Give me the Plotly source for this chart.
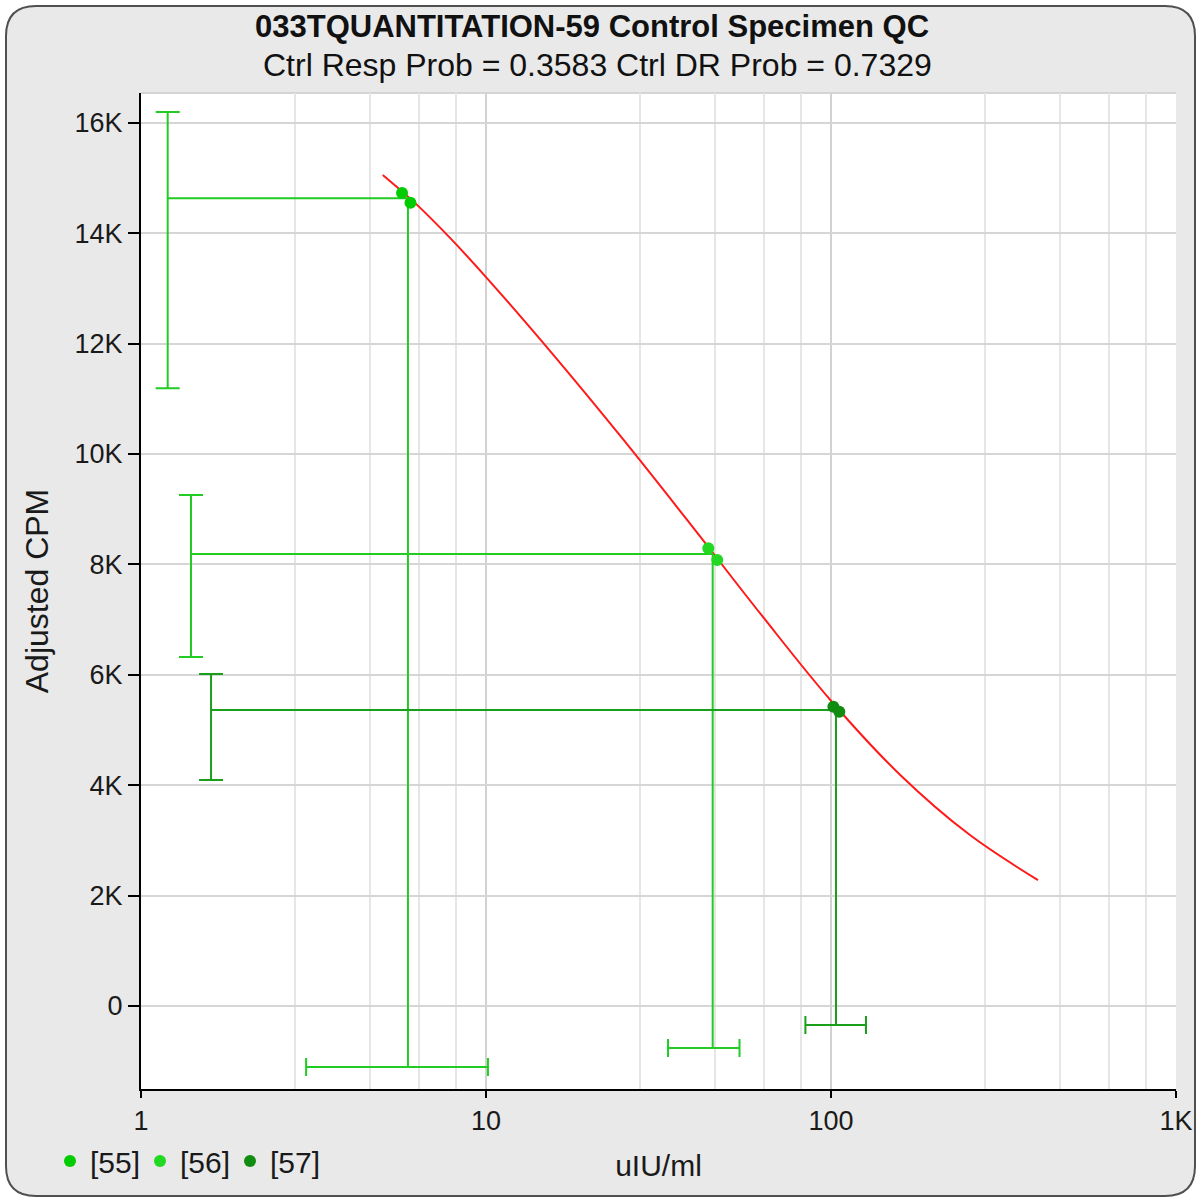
import plotly.graph_objects as go

# ---------------- data ----------------
series_names = ["[55]", "[56]", "[57]"]
marker_colors = ["#00cc00", "#22d822", "#108c10"]
line_colors = ["#22cc22", "#22cc22", "#1a9f1a"]

rep_x = [[5.71, 6.04], [44.1, 46.8], [101.6, 105.7]]
rep_y = [[14730, 14550], [8292, 8080], [5422, 5332]]

mean_x = [5.94, 45.4, 103.4]
mean_y = [14632, 8188, 5362]

resp_bar_x = [1.195, 1.396, 1.596]
resp_lo = [11190, 6322, 4094]
resp_hi = [16196, 9257, 6014]

dose_bar_y = [-1105, -761, -344]
dose_lo = [3.01, 33.7, 84.3]
dose_hi = [10.13, 54.3, 126.3]

curve_x = [5.02, 6.31, 7.94, 10, 15.85, 25.12, 39.81, 63.1, 100, 158.5, 251.2, 398.1]
curve_y = [15054, 14513, 13888, 13205, 11760, 10245, 8670, 7070, 5530, 4190, 3110, 2280]

y_tick_vals = [0, 2000, 4000, 6000, 8000, 10000, 12000, 14000, 16000]
y_tick_text = ["0", "2K", "4K", "6K", "8K", "10K", "12K", "14K", "16K"]
x_tick_vals = [1, 10, 100, 1000]
x_tick_text = ["1", "10", "100", "1K"]
x_minor_vals = [2.8, 4.6, 6.4, 8.2, 28, 46, 64, 82, 280, 460, 640, 820]

title_text = "033TQUANTITATION-59 Control Specimen QC"
subtitle_text = "Ctrl Resp Prob = 0.3583 Ctrl DR Prob = 0.7329"

# ---------------- layout geometry (pixels) ----------------
W, H = 1200, 1202
PL, PR, PT, PB = 141, 1176, 93, 1089


def px2xp(px):
    return (px - PL) / (PR - PL)


def py2yp(py):
    return (PB - py) / (PB - PT)


FONT = "Liberation Sans, Arial, sans-serif"

fig = go.Figure()

# fitted curve
fig.add_trace(go.Scatter(
    x=curve_x, y=curve_y, mode="lines",
    line=dict(color="#ff1a1a", width=2, shape="spline", smoothing=1.0),
    showlegend=False, hoverinfo="skip"))

for i, name in enumerate(series_names):
    lc = line_colors[i]
    # L-shaped connector: response bar -> mean -> dose bar
    fig.add_trace(go.Scatter(
        x=[resp_bar_x[i], mean_x[i], mean_x[i]],
        y=[mean_y[i], mean_y[i], dose_bar_y[i]],
        mode="lines", line=dict(color=lc, width=2),
        showlegend=False, hoverinfo="skip"))
    # response (y) error bar
    fig.add_trace(go.Scatter(
        x=[resp_bar_x[i]], y=[mean_y[i]], mode="markers",
        marker=dict(size=1, color="rgba(0,0,0,0)"),
        error_y=dict(type="data", symmetric=False,
                     array=[resp_hi[i] - mean_y[i]],
                     arrayminus=[mean_y[i] - resp_lo[i]],
                     color=lc, thickness=2, width=12),
        showlegend=False, hoverinfo="skip"))
    # dose (x) error bar
    fig.add_trace(go.Scatter(
        x=[mean_x[i]], y=[dose_bar_y[i]], mode="markers",
        marker=dict(size=1, color="rgba(0,0,0,0)"),
        error_x=dict(type="data", symmetric=False,
                     array=[dose_hi[i] - mean_x[i]],
                     arrayminus=[mean_x[i] - dose_lo[i]],
                     color=lc, thickness=2, width=9),
        showlegend=False, hoverinfo="skip"))
    # replicate points
    fig.add_trace(go.Scatter(
        x=rep_x[i], y=rep_y[i], mode="markers", name=name,
        marker=dict(size=12, color=marker_colors[i]),
        showlegend=True))

# frame with rounded corners (background)
L, R = px2xp(6), px2xp(1195)
T, B = py2yp(6), py2yp(1196)
rx, ry = 30 / (PR - PL), 30 / (PB - PT)
frame_path = (
    f"M {L+rx},{B} L {R-rx},{B} Q {R},{B} {R},{B+ry} "
    f"L {R},{T-ry} Q {R},{T} {R-rx},{T} "
    f"L {L+rx},{T} Q {L},{T} {L},{T-ry} "
    f"L {L},{B+ry} Q {L},{B} {L+rx},{B} Z"
)

shapes = [
    dict(type="path", xref="paper", yref="paper", path=frame_path,
         fillcolor="#e9e9e9", line=dict(color="#505050", width=2), layer="below"),
    dict(type="rect", xref="paper", yref="paper", x0=0, x1=1, y0=0, y1=1,
         fillcolor="#ffffff", line=dict(width=0), layer="below"),
    dict(type="line", xref="paper", yref="paper", x0=0, x1=1, y0=1, y1=1,
         line=dict(color="#d4d4d4", width=2), layer="below"),
]

annotations = [
    dict(text=f"<b>{title_text}</b>", xref="paper", yref="paper",
         x=px2xp(592), y=py2yp(26), xanchor="center", yanchor="middle",
         showarrow=False, font=dict(family=FONT, size=31, color="#111111")),
    dict(text=subtitle_text, xref="paper", yref="paper",
         x=px2xp(597), y=py2yp(65), xanchor="center", yanchor="middle",
         showarrow=False, font=dict(family=FONT, size=32, color="#111111")),
]

fig.update_layout(
    width=W, height=H,
    margin=dict(l=PL, r=W - PR, t=PT, b=H - PB, pad=0, autoexpand=False),
    paper_bgcolor="#ffffff", plot_bgcolor="#ffffff",
    font=dict(family=FONT, size=27, color="#1a1a1a"),
    shapes=shapes, annotations=annotations,
    showlegend=True,
    legend=dict(orientation="h", xref="paper", yref="paper",
                x=px2xp(50), y=py2yp(1135), xanchor="left", yanchor="top",
                bgcolor="rgba(0,0,0,0)", font=dict(family=FONT, size=30, color="#1a1a1a"),
                itemwidth=30, tracegroupgap=0,
                entrywidth=45, entrywidthmode="pixels"),
    xaxis=dict(
        type="log", range=[0, 3], automargin=False,
        tickmode="array", tickvals=x_tick_vals, ticktext=x_tick_text,
        ticks="outside", ticklen=7, tickwidth=2, tickcolor="#000000",
        showline=True, linecolor="#000000", linewidth=2,
        showgrid=True, gridcolor="#d2d2d2", gridwidth=2,
        minor=dict(tickmode="array", tickvals=x_minor_vals, showgrid=True,
                   gridcolor="#e6e6e6", gridwidth=2, ticks=""),
        zeroline=False,
        tickfont=dict(family=FONT, size=27),
        title=dict(text="uIU/ml", font=dict(family=FONT, size=30), standoff=20),
    ),
    yaxis=dict(
        range=[-1504, 16540], automargin=False,
        tickmode="array", tickvals=y_tick_vals, ticktext=y_tick_text,
        ticks="outside", ticklen=11, tickwidth=2, tickcolor="#000000",
        showline=True, linecolor="#000000", linewidth=2,
        showgrid=True, gridcolor="#d6d6d6", gridwidth=2,
        zeroline=False,
        tickfont=dict(family=FONT, size=27),
        title=dict(text="Adjusted CPM", font=dict(family=FONT, size=32), standoff=16),
    ),
)

fig.write_html("out.html", config={"displayModeBar": False},
               post_script="document.body.style.margin='0';")
